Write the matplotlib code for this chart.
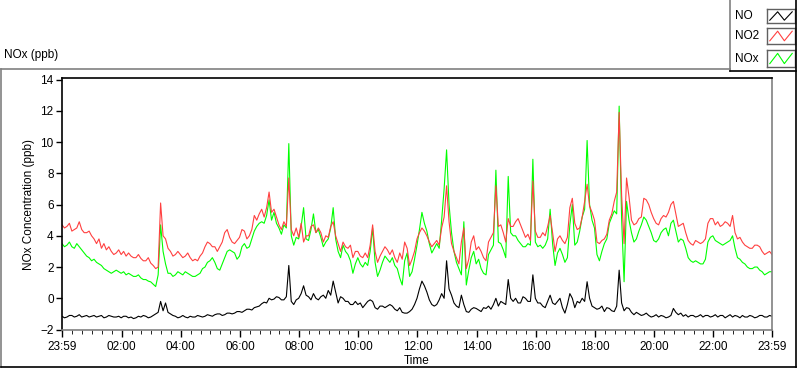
import matplotlib
matplotlib.use("Agg")
import matplotlib.pyplot as plt
from matplotlib.lines import Line2D

plt.rcParams["font.family"] = ["Liberation Sans", "DejaVu Sans"]

# minutes after 23:59, one reading every 5 minutes (one row per hour)
minutes = list(range(0, 1441, 5))

no = [-1.15, -1.25, -1.2, -1.1, -1.1, -1.2, -1.15, -1.05, -1.2, -1.15, -1.1, -1.2,
      -1.15, -1.1, -1.2, -1.15, -1.1, -1.25, -1.2, -1.1, -1.15, -1.2, -1.2, -1.15,
      -1.25, -1.15, -1.15, -1.25, -1.2, -1.3, -1.25, -1.15, -1.2, -1.1, -1.15, -1.25,
      -1.2, -1.1, -1.0, -0.9, -0.2, -0.8, -0.3, -0.9, -1.0, -1.1, -1.15, -1.25,
      -1.2, -1.1, -1.2, -1.25, -1.15, -1.2, -1.2, -1.1, -1.15, -1.2, -1.15, -1.05,
      -1.1, -1.15, -1.05, -1.0, -1.0, -1.1, -1.05, -0.95, -0.95, -1.0, -0.95, -0.85,
      -0.85, -0.9, -0.8, -0.7, -0.7, -0.75, -0.6, -0.55, -0.5, -0.35, -0.25, -0.3,
      0.0, -0.1, -0.05, 0.1, 0.05, -0.1, -0.1, 0.1, 2.1, -0.2, -0.4, -0.1,
      0.0, 0.3, 0.8, 0.2, 0.1, -0.1, 0.3, 0.0, -0.1, 0.1, 0.2, 0.0,
      0.5, 0.2, 1.1, 0.4, -0.3, 0.1, 0.0, -0.2, -0.2, -0.4, -0.4, -0.2,
      -0.4, -0.3, -0.6, -0.4, -0.2, -0.1, -0.2, -0.6, -0.7, -0.5, -0.5, -0.6,
      -0.5, -0.4, -0.5, -0.7, -0.8, -0.6, -0.9, -0.95, -0.95, -0.85, -0.7, -0.4,
      0.0, 0.6, 1.1, 0.8, 0.4, -0.1, -0.4, -0.5, -0.4, -0.1, 0.3, 0.0,
      2.4, 0.6, 0.2, -0.3, -0.5, -0.6, 0.2, -0.4, -0.85, -0.9, -0.7, -0.6,
      -0.65, -0.75, -0.85, -0.6, -0.65, -0.5, -0.7, -0.4, 0.0, -0.5, -0.2, -0.3,
      -0.4, 1.2, 0.0, -0.2, 0.0, -0.3, -0.3, 0.1, 0.0, -0.2, -0.2, 1.5,
      0.0, -0.3, -0.3, -0.5, -0.6, -0.2, 0.2, -0.3, -0.4, -0.2, 0.0, -0.6,
      -0.95, -0.4, 0.3, 0.0, -0.6, -0.2, -0.3, 0.0, -0.2, 1.06, 0.0, -0.5,
      -0.6, -0.7, -0.65, -0.5, -0.85, -0.6, -0.65, -0.8, -0.85, -0.5, 1.8, -0.3,
      -0.8, -0.6, -0.65, -0.9, -1.05, -0.9, -1.0, -1.1, -1.05, -0.95, -1.1, -1.2,
      -1.15, -1.05, -1.2, -1.1, -1.15, -1.25, -1.2, -1.1, -0.65, -0.9, -1.05, -0.95,
      -1.15, -1.05, -1.2, -1.1, -1.1, -1.2, -1.15, -1.05, -1.2, -1.1, -1.1, -1.2,
      -1.15, -1.05, -1.2, -1.1, -1.1, -1.25, -1.15, -1.05, -1.2, -1.1, -1.15, -1.25,
      -1.1, -1.2, -1.2, -1.1, -1.15, -1.25, -1.2, -1.1, -1.1, -1.2, -1.2, -1.1,
      -1.15]

no2 = [4.7, 4.5, 4.6, 4.8, 4.3, 4.4, 4.5, 4.9, 4.4, 4.2, 4.2, 4.3,
       4.0, 3.8, 3.5, 3.8, 3.2, 3.5, 3.1, 3.3, 3.0, 2.8, 2.9, 3.1,
       2.8, 3.0, 2.7, 2.9, 2.7, 2.6, 2.6, 2.8, 2.55, 2.4, 2.4, 2.6,
       2.25, 2.1, 1.9, 2.0, 6.1, 4.0, 3.8, 3.2, 3.0, 2.7, 2.8, 3.0,
       2.8, 2.6, 2.7, 2.9, 2.6, 2.4, 2.5, 2.4, 2.7, 2.9, 3.3, 3.6,
       3.5, 3.3, 3.3, 3.0, 3.3, 3.6, 4.2, 4.4, 3.9, 3.6, 3.5, 3.7,
       3.9, 4.4, 4.3, 3.8, 4.0, 4.4, 5.3, 5.0, 5.4, 5.7, 5.2, 5.8,
       6.8, 5.5, 5.7, 5.2, 4.7, 4.4, 4.9, 4.6, 7.7, 4.4, 4.0, 4.5,
       3.9, 4.8, 3.6, 4.0, 4.0, 4.6, 4.7, 4.2, 4.5, 4.2, 3.6, 4.0,
       3.9, 4.6, 4.9, 4.0, 3.5, 3.0, 3.6, 3.3, 3.2, 3.4, 2.6, 3.0,
       3.0, 2.7, 2.6, 2.9, 2.6, 3.4, 4.7, 3.0, 2.3, 2.7, 3.0, 3.3,
       3.1, 2.8, 3.1, 2.6, 2.3, 2.9, 2.5, 3.6, 3.2, 2.1, 2.5, 3.0,
       3.8, 4.2, 4.5, 4.3, 4.0, 3.6, 3.3, 3.5, 3.7, 3.4, 4.5, 5.2,
       7.2, 4.9, 3.5, 3.0, 2.6, 2.2, 3.6, 4.5, 1.9, 2.5, 3.6, 4.0,
       3.1, 3.3, 3.0, 2.6, 2.4, 3.6, 3.9, 4.2, 7.2, 4.6, 4.7, 4.2,
       3.6, 5.1, 4.6, 4.6, 4.9, 5.1, 4.7, 4.3, 3.9, 4.1, 3.7, 7.5,
       4.3, 3.9, 3.9, 4.2, 4.0, 4.6, 5.3, 4.2, 3.0, 3.8, 4.0, 3.7,
       3.5, 3.9, 5.8, 6.4, 4.8, 4.4, 4.5, 5.2, 6.2, 7.3, 5.9, 5.5,
       5.0, 3.6, 3.5, 3.7, 3.8, 4.1, 5.0, 5.4, 6.2, 6.8, 11.9, 6.6,
       3.5, 7.7, 6.5, 5.0, 4.7, 4.8, 5.1, 5.2, 6.4, 6.3, 6.0, 5.5,
       5.1, 4.8, 4.7, 5.1, 5.3, 5.2, 5.5, 6.0, 6.2, 5.4, 4.6, 4.7,
       4.8, 4.2, 3.7, 3.5, 3.4, 3.7, 3.6, 3.5, 3.6, 3.8, 4.8, 5.1,
       5.1, 4.7, 4.9, 4.6, 4.7, 4.9, 4.8, 4.6, 5.3, 4.2, 3.8, 3.9,
       3.6, 3.4, 3.3, 3.2, 3.2, 3.4, 3.4, 3.3, 3.0, 2.8, 2.9, 3.0,
       2.8]

nox = [3.5, 3.3, 3.4, 3.6, 3.3, 3.2, 3.5, 3.3, 3.1, 2.9, 2.7, 2.6,
       2.4, 2.5, 2.3, 2.2, 2.1, 1.9, 1.8, 1.7, 1.6, 1.7, 1.8, 1.7,
       1.6, 1.7, 1.5, 1.6, 1.5, 1.4, 1.4, 1.5, 1.3, 1.2, 1.2, 1.1,
       1.05, 0.9, 0.75, 1.5, 4.7, 3.0, 2.2, 1.6, 1.6, 1.4, 1.5, 1.7,
       1.6, 1.5, 1.7, 1.6, 1.5, 1.4, 1.4, 1.5, 1.6, 1.9, 2.0, 2.3,
       2.4, 2.6, 2.3, 1.9, 1.8, 2.2, 2.6, 3.0, 3.1, 3.0, 2.9, 2.5,
       2.7, 3.3, 3.5, 3.2, 3.3, 3.8, 4.3, 4.6, 4.8, 4.9, 4.8, 5.3,
       6.3, 5.0, 5.5, 4.8, 4.5, 4.1, 4.7, 4.5, 9.9, 4.0, 3.4, 3.9,
       3.8, 4.6, 5.8, 3.8, 3.7, 4.4, 5.4, 4.2, 4.4, 3.9, 3.3, 3.6,
       3.8, 4.5, 5.8, 3.8, 3.0, 2.6, 3.4, 3.0, 2.8, 2.4, 1.6, 2.2,
       2.6, 2.2, 2.0, 2.3, 2.1, 3.0, 4.5, 2.3, 1.4, 1.8, 2.3, 2.7,
       2.5, 2.3, 2.6, 2.1, 1.9, 1.3, 0.85, 2.4, 2.9, 1.4, 1.7, 2.5,
       3.4, 4.4, 5.5, 4.8, 4.3, 3.5, 2.9, 3.2, 3.5, 3.2, 5.0, 7.0,
       9.5, 6.0, 4.2, 3.0, 2.3, 1.9, 1.5, 4.9, 0.85, 1.8, 2.6, 3.0,
       2.2, 2.5, 1.9, 1.6, 1.5, 2.8, 3.1, 3.4, 8.2, 3.6, 3.5, 3.1,
       2.6, 7.8, 4.2, 4.0, 4.0, 3.7, 3.5, 3.3, 3.3, 3.5, 3.4, 8.9,
       3.6, 3.3, 3.4, 3.2, 3.4, 3.8, 5.7, 3.5, 2.1, 2.9, 3.2, 2.8,
       2.3, 2.6, 4.7, 6.0, 3.4, 3.6, 4.3, 5.2, 5.7, 10.1, 6.0, 5.0,
       4.5, 2.8, 2.4, 3.0, 3.5, 3.8, 4.8, 5.2, 5.6, 5.4, 12.3, 5.1,
       1.06, 6.2, 5.0, 4.2, 3.6, 3.8, 4.3, 4.7, 5.2, 5.0, 4.6, 4.2,
       3.7, 3.6, 3.8, 4.2, 4.4, 4.5, 4.0, 4.8, 5.0, 4.3, 3.6, 3.8,
       3.7, 3.2, 2.6, 2.4, 2.3, 2.4, 2.3, 2.2, 2.2, 2.5, 3.6, 3.9,
       4.0, 3.7, 3.6, 3.5, 3.4, 3.5, 3.6, 3.7, 4.0, 3.2, 2.6, 2.5,
       2.3, 2.2, 2.0, 1.9, 1.9, 2.0, 2.0, 1.8, 1.7, 1.5, 1.6, 1.7,
       1.7]

tick_pos = [0, 121, 241, 361, 481, 601, 721, 841, 961, 1081, 1201, 1321, 1440]
tick_labels = ["23:59", "02:00", "04:00", "06:00", "08:00", "10:00", "12:00",
               "14:00", "16:00", "18:00", "20:00", "22:00", "23:59"]
series_names = ["NO", "NO2", "NOx"]
series_colors = ["black", "#ff4040", "#00ff00"]

W, H = 800, 369


def fx(x):
    return x / W


def fy(y):
    return 1 - y / H


fig = plt.figure(figsize=(8, 3.69), dpi=100)
ax = fig.add_axes([fx(62), fy(330), fx(772) - fx(62), fy(78) - fy(330)])

ax.plot(minutes, nox, color=series_colors[2], lw=0.8)
ax.plot(minutes, no2, color=series_colors[1], lw=0.8)
ax.plot(minutes, no, color=series_colors[0], lw=0.8)

ax.set_xlim(0, 1440)
ax.set_ylim(-2.03, 14.1)
ax.set_yticks(range(-2, 15, 2))
ax.set_xticks(tick_pos)
ax.set_xticklabels(tick_labels)
ax.set_xticks([t for t in range(21, 1440, 20) if t not in tick_pos], minor=True)
ax.tick_params(axis="both", direction="out", labelsize=8.5, width=1, colors="black")
ax.tick_params(axis="x", which="major", length=5, pad=3)
ax.tick_params(axis="x", which="minor", length=3)
ax.tick_params(axis="y", length=4, pad=2)
ax.set_xlabel("Time", fontsize=8.5, labelpad=1)
ax.set_ylabel("NOx Concentration (ppb)", fontsize=8.5, labelpad=4)

ax.spines["left"].set_color("black")
ax.spines["top"].set_color("black")
ax.spines["right"].set_color("#808080")
ax.spines["bottom"].set_color("#808080")
for s in ax.spines.values():
    s.set_linewidth(1.2)

# outer panel frame
fig.add_artist(Line2D([fx(1), fx(730)], [fy(69), fy(69)], color="#808080", lw=1.2))
fig.add_artist(Line2D([fx(1), fx(1)], [fy(69), fy(367)], color="#808080", lw=1.2))
fig.add_artist(Line2D([fx(1), fx(796)], [fy(367), fy(367)], color="black", lw=1.2))
fig.add_artist(Line2D([fx(796), fx(796)], [fy(0), fy(367)], color="black", lw=1.2))
fig.add_artist(Line2D([fx(730), fx(730)], [fy(0), fy(71)], color="#808080", lw=1.2))
fig.add_artist(Line2D([fx(730), fx(796)], [fy(71), fy(71)], color="black", lw=1.2))

fig.text(fx(4), fy(58), "NOx (ppb)", fontsize=8.5, va="baseline")

# legend
zig_x = [0.1, 0.38, 0.62, 0.9]
zig_y = [0.2, 0.8, 0.2, 0.8]
rows = [(9, 23), (28, 44), (50, 67)]
for name, color, (y0, y1) in zip(series_names, series_colors, rows):
    fig.text(fx(735), fy((y0 + y1) / 2), name, fontsize=8.5, va="center")
    lax = fig.add_axes([fx(767), fy(y1), fx(795) - fx(767), fy(y0) - fy(y1)])
    lax.plot(zig_x, zig_y, color=color, lw=0.8)
    lax.set_xlim(0, 1)
    lax.set_ylim(0, 1)
    lax.set_xticks([])
    lax.set_yticks([])
    for s in lax.spines.values():
        s.set_color("#606060")
        s.set_linewidth(1)

fig.savefig("out.png", dpi=100)
